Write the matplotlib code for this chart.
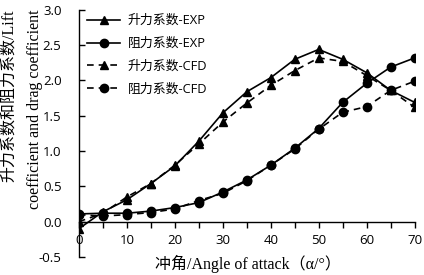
import matplotlib
matplotlib.use("Agg")
import matplotlib.pyplot as plt

# angle of attack (deg)
angle = [0, 5, 10, 15, 20, 25, 30, 35, 40, 45, 50, 55, 60, 65, 70]
lift_exp = [-0.10, 0.14, 0.31, 0.54, 0.79, 1.14, 1.54, 1.84, 2.04, 2.30, 2.44, 2.30, 2.11, 1.86, 1.69]
drag_exp = [0.11, 0.12, 0.12, 0.15, 0.20, 0.27, 0.42, 0.59, 0.80, 1.04, 1.32, 1.69, 1.96, 2.19, 2.32]
lift_cfd = [0.00, 0.12, 0.35, 0.54, 0.80, 1.10, 1.41, 1.68, 1.93, 2.14, 2.32, 2.27, 2.07, 1.86, 1.62]
drag_cfd = [0.10, 0.08, 0.10, 0.13, 0.18, 0.30, 0.40, 0.58, 0.80, 1.03, 1.31, 1.55, 1.63, 1.86, 1.99]

labels = ["升力系数-EXP", "阻力系数-EXP", "升力系数-CFD", "阻力系数-CFD"]

sans = ["Open Sans", "Noto Sans CJK SC"]
serif = ["Liberation Serif", "Noto Sans CJK SC"]

fig = plt.figure(figsize=(4.24, 2.75), dpi=100)
ax = fig.add_axes([0.186, 0.0655, 0.792, 0.8985])

kw = dict(color="black", lw=1.2, ms=6)
ax.plot(angle, lift_exp, marker="^", ls="-", label=labels[0], **kw)
ax.plot(angle, drag_exp, marker="o", ls="-", label=labels[1], **kw)
ax.plot(angle, lift_cfd, marker="^", ls=(0, (4, 3)), label=labels[2], **kw)
ax.plot(angle, drag_cfd, marker="o", ls=(0, (4, 3)), label=labels[3], **kw)

ax.set_xlim(0, 70)
ax.set_ylim(-0.5, 3.0)
ax.set_xticks(range(0, 71, 10))
ax.set_xticks(range(0, 71, 5), minor=True)
ax.set_yticks([-0.5, 0, 0.5, 1.0, 1.5, 2.0, 2.5, 3.0])
ax.set_yticklabels(["-0.5", "0.0", "0.5", "1.0", "1.5", "2.0", "2.5", "3.0"])

ax.spines["top"].set_visible(False)
ax.spines["right"].set_visible(False)
ax.spines["bottom"].set_position(("data", 0))
ax.spines["left"].set_linewidth(1.0)
ax.spines["bottom"].set_linewidth(1.0)
ax.tick_params(axis="x", which="both", direction="out", length=4, width=1.0, pad=5)
ax.tick_params(axis="y", direction="in", length=4, width=1.0, pad=12.5)
for t in ax.get_xticklabels() + ax.get_yticklabels():
    t.set_family(sans)
    t.set_fontsize(9.5)

leg = ax.legend(loc="upper left", bbox_to_anchor=(-0.009, 1.03), frameon=False,
                handlelength=2.55, handletextpad=0.55, labelspacing=0.77,
                prop={"family": sans, "size": 9.3})

fig.text(0.02, 0.651, "升力系数和阻力系数/Lift", rotation=90, ha="center", va="center",
         family=serif, fontsize=11.5)
fig.text(0.082, 0.604, "coefficient and drag coefficient", rotation=90, ha="center", va="center",
         family=serif, fontsize=11.5)
fig.text(0.585, 0.04, "冲角/Angle of attack（α/°）", ha="center", va="center",
         family=serif, fontsize=11.5)

fig.savefig("out.png", dpi=100)
